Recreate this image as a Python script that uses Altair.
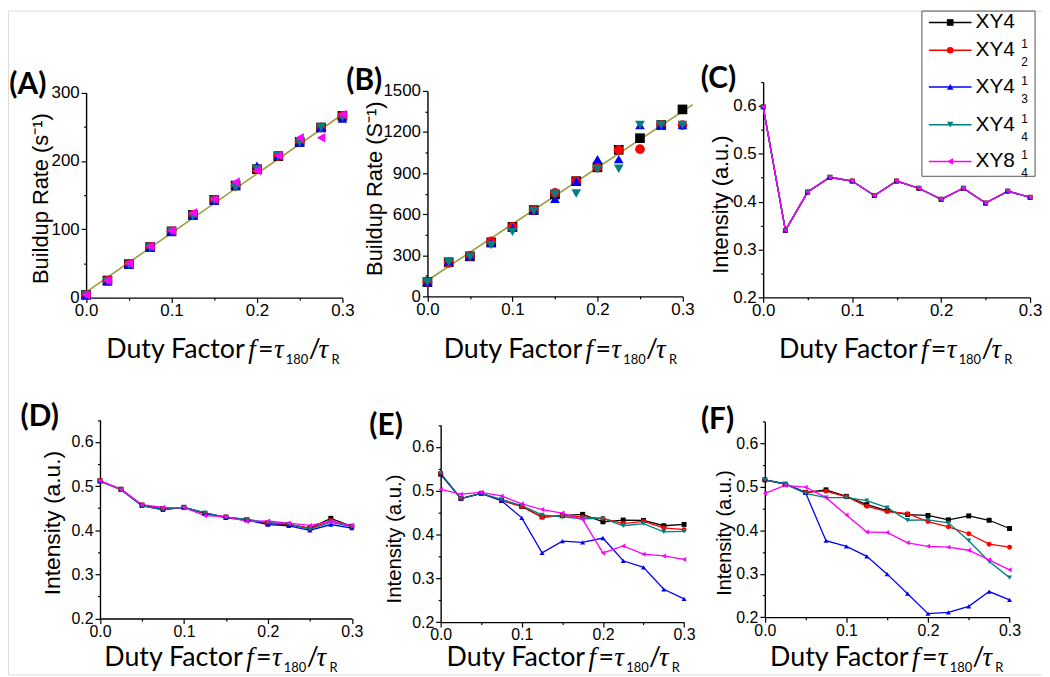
import altair as alt
import pandas as pd

# ---------------- data ----------------
X = [0.0, 0.025, 0.05, 0.075, 0.1, 0.125, 0.15, 0.175, 0.2, 0.225, 0.25, 0.275, 0.3]
SERIES = ["XY4", "XY4¹₂", "XY4¹₃", "XY4¹₄", "XY8¹₄"]
COLORS = ["#000000", "#ff0000", "#0000ff", "#008080", "#ff00ff"]
SHAPES = ["square", "circle", "triangle-up", "triangle-down", "triangle-left"]
LEG_MAIN = ["XY4", "XY4", "XY4", "XY4", "XY8"]
LEG_SUP = ["", "1", "1", "1", "1"]
LEG_SUB = ["", "2", "3", "4", "4"]

A_BLACK = [4, 25, 49, 74, 97, 121, 143, 164, 188, 207, 228, 249, 266]
A_RED = [4, 25, 49, 74, 97, 121, 143, 164, 188, 207, 228, 249, 266]
A_BLUE = [4, 24, 48, 74, 97, 120, 142, 164, 193, 208, 227, 250, 262]
A_TEAL = [4, 24, 48, 73, 97, 119, 142, 161, 188, 207, 227, 249, 264]
A_MAGENTA = [4, 25, 50, 75, 98, 124, 144, 169, 186, 208, 234, 234, 268]
A_FIT_X = [0.0, 0.3]
A_FIT_Y = [8, 268]

B_BLACK = [104, 249, 292, 394, 507, 630, 744, 841, 942, 1070, 1155, 1251, 1365]
B_RED = [104, 245, 295, 401, 507, 630, 756, 841, 942, 1070, 1075, 1251, 1251]
B_BLUE = [104, 255, 295, 390, 500, 630, 713, 841, 1002, 1002, 1251, 1251, 1251]
B_TEAL = [104, 249, 289, 374, 471, 624, 744, 751, 930, 932, 1251, 1251, 1251]
B_FIT_X = [0.0, 0.312]
B_FIT_Y = [116, 1400]

C_ALL = [0.598, 0.340, 0.420, 0.451, 0.443, 0.413, 0.443, 0.428, 0.405, 0.428, 0.397, 0.422, 0.409]

D_BLACK = [0.512, 0.493, 0.457, 0.449, 0.452, 0.438, 0.430, 0.424, 0.415, 0.413, 0.405, 0.427, 0.409]
D_RED = [0.512, 0.493, 0.457, 0.449, 0.452, 0.438, 0.430, 0.424, 0.416, 0.414, 0.404, 0.422, 0.409]
D_BLUE = [0.511, 0.492, 0.456, 0.446, 0.452, 0.439, 0.428, 0.423, 0.413, 0.410, 0.400, 0.413, 0.405]
D_TEAL = [0.511, 0.492, 0.455, 0.447, 0.452, 0.440, 0.429, 0.425, 0.418, 0.414, 0.402, 0.418, 0.408]
D_MAGENTA = [0.512, 0.492, 0.458, 0.452, 0.451, 0.433, 0.431, 0.420, 0.421, 0.416, 0.411, 0.420, 0.411]

E_BLACK = [0.538, 0.482, 0.494, 0.478, 0.464, 0.440, 0.443, 0.446, 0.429, 0.433, 0.432, 0.420, 0.423]
E_RED = [0.538, 0.482, 0.494, 0.478, 0.464, 0.440, 0.443, 0.440, 0.437, 0.425, 0.430, 0.415, 0.411]
E_BLUE = [0.538, 0.482, 0.494, 0.477, 0.438, 0.358, 0.385, 0.382, 0.392, 0.340, 0.325, 0.275, 0.253]
E_TEAL = [0.540, 0.482, 0.494, 0.480, 0.466, 0.445, 0.440, 0.436, 0.437, 0.420, 0.425, 0.406, 0.407]
E_MAGENTA = [0.503, 0.492, 0.496, 0.488, 0.470, 0.457, 0.449, 0.434, 0.358, 0.374, 0.355, 0.351, 0.343]

F_BLACK = [0.516, 0.506, 0.487, 0.493, 0.478, 0.459, 0.445, 0.436, 0.434, 0.424, 0.433, 0.423, 0.404]
F_RED = [0.516, 0.506, 0.487, 0.490, 0.477, 0.455, 0.443, 0.438, 0.420, 0.408, 0.392, 0.368, 0.361]
F_BLUE = [0.516, 0.507, 0.486, 0.376, 0.363, 0.340, 0.299, 0.254, 0.208, 0.211, 0.225, 0.259, 0.240]
F_TEAL = [0.516, 0.506, 0.485, 0.475, 0.475, 0.468, 0.452, 0.423, 0.424, 0.417, 0.376, 0.328, 0.291]
F_MAGENTA = [0.485, 0.503, 0.499, 0.475, 0.435, 0.396, 0.395, 0.371, 0.363, 0.361, 0.354, 0.332, 0.309]

PANEL_LABELS = ["(A)", "(B)", "(C)", "(D)", "(E)", "(F)"]
X_TICKS = [0.0, 0.05, 0.1, 0.15, 0.2, 0.25, 0.3]
A_TICKS = [0, 50, 100, 150, 200, 250, 300]
B_TICKS = [0, 150, 300, 450, 600, 750, 900, 1050, 1200, 1350, 1500]
I_TICKS = [0.2, 0.25, 0.3, 0.35, 0.4, 0.45, 0.5, 0.55, 0.6, 0.65]

# ---------------- layout ----------------
W, H, PAGE = 1042, 669, 8


def cx(p):
    return p - PAGE


DEC_TEST = "abs(datum.value*10 - round(datum.value*10)) < 1e-6"
DEC_LABEL = DEC_TEST + " ? format(datum.value, '.1f') : ''"

GEOM = {
    "A": dict(x0=86.7, x1=345.0, yb=297.3, yt=90.7, ydom=[0, 300], yticks=A_TICKS,
              ytest="datum.value % 100 == 0", ylab="datum.value % 100 == 0 ? format(datum.value, 'd') : ''",
              ytitle="Buildup Rate (s⁻¹)", tcx=41, tcy=197, tfs=22, lfs=17),
    "B": dict(x0=430.7, x1=687.7, yb=296.0, yt=89.0, ydom=[0, 1500], yticks=B_TICKS,
              ytest="datum.value % 300 == 0", ylab="datum.value % 300 == 0 ? format(datum.value, 'd') : ''",
              ytitle="Buildup Rate (S⁻¹)", tcx=377, tcy=187, tfs=22, lfs=17),
    "C": dict(x0=769.0, x1=1038.0, yb=297.0, yt=80.0, ydom=[0.2, 0.65], yticks=I_TICKS,
              ytest=DEC_TEST, ylab=DEC_LABEL, ytitle="Intensity (a.u.)", tcx=726, tcy=203, tfs=22, lfs=17),
    "D": dict(x0=100.7, x1=354.5, yb=620.7, yt=420.5, ydom=[0.2, 0.65], yticks=I_TICKS,
              ytest=DEC_TEST, ylab=DEC_LABEL, ytitle="Intensity (a.u.)", tcx=53, tcy=524, tfs=23, lfs=16),
    "E": dict(x0=444.0, x1=689.3, yb=624.3, yt=425.6, ydom=[0.2, 0.65], yticks=I_TICKS,
              ytest=DEC_TEST, ylab=DEC_LABEL, ytitle="Intensity (a.u.)", tcx=398, tcy=540, tfs=20.5, lfs=16),
    "F": dict(x0=770.7, x1=1017.3, yb=619.3, yt=422.2, ydom=[0.2, 0.65], yticks=I_TICKS,
              ytest=DEC_TEST, ylab=DEC_LABEL, ytitle="Intensity (a.u.)", tcx=730, tcy=534, tfs=20, lfs=16),
}

LABEL_POS = {"A": (28, 83), "B": (367, 79), "C": (724, 77), "D": (40, 418), "E": (389, 427), "F": (723, 421)}
TITLE_ANCHORS = {"A": (107, 358), "B": (447, 358), "C": (785, 358),
                 "D": (105, 669), "E": (450, 669), "F": (776, 669)}
TITLE_SEGMENTS = [("Duty Factor", 0, 0, "sans"), ("f", 143, 0, "ital"), ("=", 153, 0, "sans"),
                  ("τ", 169, 0, "ital"), ("180", 181, 6, "small"), ("/", 204, 0, "sans"),
                  ("τ", 214, 0, "ital"), ("R", 227, 6, "small")]
LEG_ROWS = [20, 48, 85, 123, 160]

color_enc = alt.Color("series:N", scale=alt.Scale(domain=SERIES, range=COLORS), legend=None)
shape_enc = alt.Shape("series:N", scale=alt.Scale(domain=SERIES, range=SHAPES), legend=None)


def long_df(cols):
    rows = []
    for s, vals in cols:
        for xv, yv in zip(X, vals):
            rows.append({"series": s, "x": xv, "y": yv})
    return pd.DataFrame(rows)


def panel(key, cols, lines, fit=None, msize=25, fit_color="#9c9c3e"):
    g = GEOM[key]
    xs = alt.Scale(domain=[0, 0.3], range=[cx(g["x0"]), cx(g["x1"])], nice=False, zero=False)
    ys = alt.Scale(domain=g["ydom"], range=[cx(g["yb"]), cx(g["yt"])], nice=False, zero=False)
    common = dict(grid=False, domainColor="black", domainWidth=1.4, tickColor="black", tickWidth=1.2,
                  labelColor="black", labelFont="Liberation Sans", labelFontSize=g["lfs"],
                  labelOverlap=False, labelFlush=False)
    xax = alt.Axis(orient="bottom", offset=cx(g["yb"]) - H, values=X_TICKS, labelExpr=DEC_LABEL,
                   tickSize={"condition": {"test": DEC_TEST, "value": 5}, "value": 2.5},
                   labelPadding=0, title=None, **common)
    yax = alt.Axis(orient="left", offset=-cx(g["x0"]), values=g["yticks"], labelExpr=g["ylab"],
                   tickSize={"condition": {"test": g["ytest"], "value": 5}, "value": 2.5},
                   labelPadding=2, title=g["ytitle"], titleFont="Liberation Sans",
                   titleFontSize=g["tfs"], titleFontWeight="normal", titleColor="black",
                   titleX=g["tcx"] - g["x0"], titleY=cx(g["tcy"]), titleAngle=-90,
                   titleBaseline="middle", titleAlign="center", **common)
    xenc = alt.X("x:Q", scale=xs, axis=xax)
    yenc = alt.Y("y:Q", scale=ys, axis=yax)
    df = long_df(cols)
    layers = []
    if fit is not None:
        fdf = pd.DataFrame({"x": fit[0], "y": fit[1]})
        layers.append(alt.Chart(fdf).mark_line(color=fit_color, strokeWidth=1.6, clip=False)
                      .encode(x=xenc, y=yenc))
    if lines:
        layers.append(alt.Chart(df).mark_line(strokeWidth=1.3).encode(x=xenc, y=yenc, color=color_enc))
    layers.append(alt.Chart(df).mark_point(filled=True, size=msize, opacity=1)
                  .encode(x=xenc, y=yenc, color=color_enc, shape=shape_enc))
    return alt.layer(*layers)


pA = panel("A", list(zip(SERIES, [A_BLACK, A_RED, A_BLUE, A_TEAL, A_MAGENTA])), False,
           fit=(A_FIT_X, A_FIT_Y), msize=95)
pB = panel("B", list(zip(SERIES[:4], [B_BLACK, B_RED, B_BLUE, B_TEAL])), False,
           fit=(B_FIT_X, B_FIT_Y), msize=95)
pC = panel("C", list(zip(SERIES, [C_ALL] * 5)), True)
pD = panel("D", list(zip(SERIES, [D_BLACK, D_RED, D_BLUE, D_TEAL, D_MAGENTA])), True)
pE = panel("E", list(zip(SERIES, [E_BLACK, E_RED, E_BLUE, E_TEAL, E_MAGENTA])), True)
pF = panel("F", list(zip(SERIES, [F_BLACK, F_RED, F_BLUE, F_TEAL, F_MAGENTA])), True)

# ---------------- text: axis x titles, panel labels ----------------
seg_rows = []
for key, (ax, ay) in TITLE_ANCHORS.items():
    for text, dx, dy, kind in TITLE_SEGMENTS:
        seg_rows.append({"t": text, "tx": cx(ax + dx), "ty": cx(ay + dy), "kind": kind})
seg_df = pd.DataFrame(seg_rows)


def seg_layer(kind, **mk):
    return (alt.Chart(seg_df).transform_filter(alt.datum.kind == kind)
            .mark_text(align="left", baseline="alphabetic", color="black", **mk)
            .encode(x=alt.X("tx:Q", scale=None, axis=None), y=alt.Y("ty:Q", scale=None, axis=None),
                    text="t:N"))


t_sans = seg_layer("sans", font="Lato", fontSize=27)
t_ital = seg_layer("ital", font="Liberation Serif", fontStyle="italic", fontSize=27)
t_small = seg_layer("small", font="Lato", fontSize=13)

lab_df = pd.DataFrame({"label": PANEL_LABELS,
                       "px": [cx(LABEL_POS[k][0]) for k in "ABCDEF"],
                       "py": [cx(LABEL_POS[k][1]) for k in "ABCDEF"]})
t_labels = (alt.Chart(lab_df).mark_text(font="Lato", fontWeight="bold", fontSize=30, align="center",
                                        baseline="middle", color="black")
            .encode(x=alt.X("px:Q", scale=None, axis=None), y=alt.Y("py:Q", scale=None, axis=None),
                    text="label:N"))

# ---------------- legend ----------------
leg_df = pd.DataFrame({"series": SERIES, "main": LEG_MAIN, "sup": LEG_SUP, "sub": LEG_SUB,
                       "ly": [cx(v) for v in LEG_ROWS]})
ly = alt.Y("ly:Q", scale=None, axis=None)
leg_box = (alt.Chart(alt.Data(values=[{"a": 1}]))
           .mark_rect(fillOpacity=0, stroke="#555555", strokeWidth=1)
           .encode(x=alt.value(cx(929)), x2=alt.value(cx(1043)), y=alt.value(0.5), y2=alt.value(cx(175))))
leg_rule = (alt.Chart(leg_df).mark_rule(strokeWidth=1.5)
            .encode(x=alt.value(cx(936)), x2=alt.value(cx(979)), y=ly, color=color_enc))
leg_pt = (alt.Chart(leg_df).mark_point(filled=True, size=45, opacity=1)
          .encode(x=alt.value(cx(957.5)), y=ly, color=color_enc, shape=shape_enc))
leg_txt = (alt.Chart(leg_df).mark_text(align="left", baseline="middle", font="Liberation Sans",
                                       fontSize=21, color="black")
           .encode(x=alt.value(cx(983)), y=ly, text="main:N"))
leg_sup = (alt.Chart(leg_df).mark_text(align="left", baseline="middle", font="Liberation Sans",
                                       fontSize=12, color="black", dy=-6)
           .encode(x=alt.value(cx(1029)), y=ly, text="sup:N"))
leg_sub = (alt.Chart(leg_df).mark_text(align="left", baseline="middle", font="Liberation Sans",
                                       fontSize=12, color="black", dy=12)
           .encode(x=alt.value(cx(1029)), y=ly, text="sub:N"))

chart = (alt.layer(pA, pB, pC, pD, pE, pF, t_sans, t_ital, t_small, t_labels,
                   leg_box, leg_rule, leg_pt, leg_txt, leg_sup, leg_sub)
         .resolve_scale(x="independent", y="independent")
         .properties(width=W, height=H, autosize=alt.AutoSizeParams(type="none"), padding=0)
         .configure_view(stroke=None)
         .configure(background="white"))

chart.save("out.html", embed_options={"renderer": "svg", "actions": False})
